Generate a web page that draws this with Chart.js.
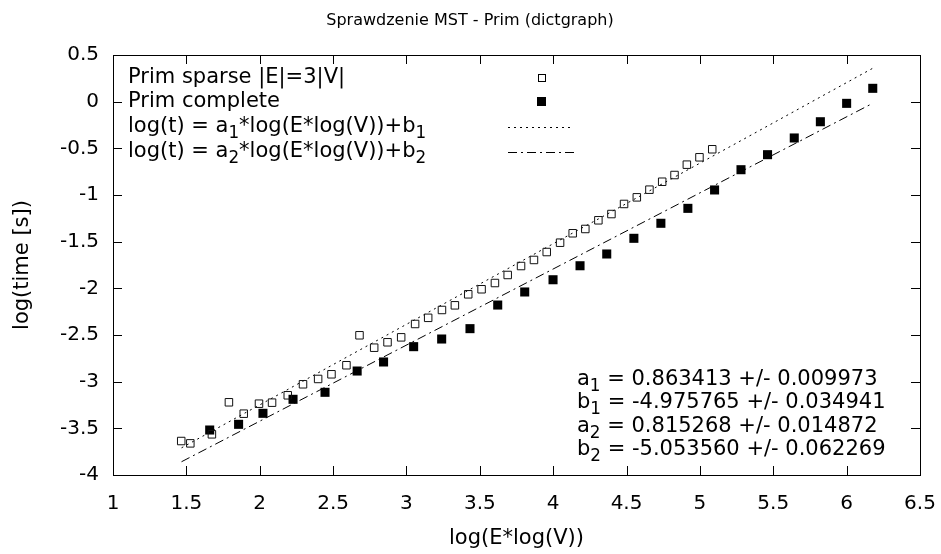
<!DOCTYPE html>
<html>
<head>
<meta charset="utf-8">
<script src="https://cdn.jsdelivr.net/npm/chart.js@4/dist/chart.umd.min.js"></script>
<style>
  html, body { margin: 0; background: #fff; }
  #wrap { width: 941px; height: 554px; }
</style>
</head>
<body>
<div id="wrap"><canvas id="c"></canvas></div>
<script>
// values
const sparseX = [1.465, 1.527, 1.674, 1.790, 1.891, 1.995, 2.084, 2.191, 2.295, 2.398,
                 2.489, 2.591, 2.680, 2.780, 2.871, 2.964, 3.059, 3.148, 3.242, 3.330,
                 3.421, 3.512, 3.603, 3.690, 3.781, 3.869, 3.956, 4.047, 4.133, 4.219,
                 4.308, 4.397, 4.483, 4.570, 4.656, 4.743, 4.827, 4.911, 4.997, 5.084];
const sparseY = [-3.636, -3.661, -3.564, -3.221, -3.343, -3.236, -3.225, -3.146, -3.028, -2.971,
                 -2.921, -2.824, -2.503, -2.636, -2.578, -2.525, -2.382, -2.316, -2.232, -2.182,
                 -2.064, -2.010, -1.943, -1.857, -1.761, -1.696, -1.611, -1.511, -1.410, -1.364,
                 -1.271, -1.204, -1.096, -1.025, -0.943, -0.858, -0.786, -0.675, -0.596, -0.510];
const completeX = [1.659, 1.856, 2.022, 2.227, 2.445, 2.664, 2.844, 3.049, 3.240, 3.433,
                   3.622, 3.806, 3.999, 4.183, 4.365, 4.550, 4.734, 4.918, 5.100, 5.280,
                   5.461, 5.643, 5.821, 6.000, 6.178];
const completeY = [-3.518, -3.457, -3.339, -3.189, -3.114, -2.886, -2.789, -2.625, -2.543, -2.432,
                   -2.179, -2.039, -1.908, -1.758, -1.632, -1.464, -1.303, -1.143, -0.946, -0.729,
                   -0.568, -0.389, -0.215, -0.018, 0.143];
// fitted lines, end points
const fit1X = [1.467, 6.178];
const fit1Y = [-3.709, 0.358];
const fit2X = [1.467, 6.178];
const fit2Y = [-3.858, -0.017];

const xTicks = [1, 1.5, 2, 2.5, 3, 3.5, 4, 4.5, 5, 5.5, 6, 6.5];
const yTicks = [0.5, 0, -0.5, -1, -1.5, -2, -2.5, -3, -3.5, -4];

const titleText = 'Sprawdzenie MST - Prim (dictgraph)';
const xTitle = 'log(E*log(V))';
const yTitle = 'log(time [s])';

// legend rows: [text, subscript] pieces
const legendRows = [
  [['Prim sparse |E|=3|V|', 0]],
  [['Prim complete', 0]],
  [['log(t) = a', 0], ['1', 1], ['*log(E*log(V))+b', 0], ['1', 1]],
  [['log(t) = a', 0], ['2', 1], ['*log(E*log(V))+b', 0], ['2', 1]]
];
const fitRows = [
  [['a', 0], ['1', 1], [' = 0.863413 +/- 0.009973', 0]],
  [['b', 0], ['1', 1], [' = -4.975765 +/- 0.034941', 0]],
  [['a', 0], ['2', 1], [' = 0.815268 +/- 0.014872', 0]],
  [['b', 0], ['2', 1], [' = -5.053560 +/- 0.062269', 0]]
];

const FONT = "'DejaVu Sans', sans-serif";
const toPts = (xs, ys) => xs.map((x, i) => ({ x: x, y: ys[i] }));

function drawRich(ctx, parts, x, y, size) {
  let cx = x;
  parts.forEach(([t, sub]) => {
    const s = sub ? size * 0.8 : size;
    ctx.font = s + 'px ' + FONT;
    ctx.fillText(t, cx, sub ? y + size * 0.3 : y);
    cx += ctx.measureText(t).width;
  });
}

const frame = {
  id: 'frame',
  afterDraw(chart) {
    const ctx = chart.ctx;
    const a = chart.chartArea;
    const xs = chart.scales.x, ys = chart.scales.y;
    ctx.save();
    ctx.strokeStyle = '#000';
    ctx.lineWidth = 1;
    ctx.strokeRect(Math.round(a.left) + 0.5, Math.round(a.top) + 0.5,
                   Math.round(a.right - a.left), Math.round(a.bottom - a.top));
    ctx.beginPath();
    xs.ticks.forEach(t => {
      const px = Math.round(xs.getPixelForValue(t.value)) + 0.5;
      ctx.moveTo(px, a.bottom); ctx.lineTo(px, a.bottom - 9);
      ctx.moveTo(px, a.top); ctx.lineTo(px, a.top + 9);
    });
    ys.ticks.forEach(t => {
      const py = Math.round(ys.getPixelForValue(t.value)) + 0.5;
      ctx.moveTo(a.left, py); ctx.lineTo(a.left + 9, py);
      ctx.moveTo(a.right, py); ctx.lineTo(a.right - 9, py);
    });
    ctx.stroke();

    ctx.fillStyle = '#000';
    ctx.textBaseline = 'middle';
    ctx.textAlign = 'center';
    ctx.font = '16px ' + FONT;
    ctx.fillText(titleText, 470, 21);

    // legend
    ctx.textAlign = 'left';
    const rowY = [78, 102, 127, 152];
    legendRows.forEach((r, i) => drawRich(ctx, r, 128, rowY[i], 21));
    ctx.lineWidth = 1;
    ctx.strokeRect(538.5, 74.5, 7, 7);
    ctx.fillRect(537, 97, 9, 9);
    ctx.beginPath();
    ctx.setLineDash([2, 4]);
    ctx.moveTo(508, 127.5); ctx.lineTo(572, 127.5);
    ctx.stroke();
    ctx.beginPath();
    ctx.setLineDash([9, 4, 2, 4]);
    ctx.moveTo(508, 152.5); ctx.lineTo(574, 152.5);
    ctx.stroke();
    ctx.setLineDash([]);

    // fit results
    const fitY = [380, 403, 427, 450];
    fitRows.forEach((r, i) => drawRich(ctx, r, 577, fitY[i], 21));
    ctx.restore();
  }
};

new Chart(document.getElementById('c'), {
  type: 'scatter',
  data: {
    datasets: [
      {
        label: 'Prim sparse |E|=3|V|',
        data: toPts(sparseX, sparseY),
        pointStyle: 'rect',
        pointRadius: 5.3,
        pointBorderWidth: 1,
        pointBorderColor: '#111',
        pointBackgroundColor: 'rgba(255,255,255,0)'
      },
      {
        label: 'Prim complete',
        data: toPts(completeX, completeY),
        pointStyle: 'rect',
        pointRadius: 6.4,
        pointBorderWidth: 0,
        pointBackgroundColor: '#000'
      },
      {
        label: 'fit1',
        data: toPts(fit1X, fit1Y),
        showLine: true,
        pointRadius: 0,
        borderColor: '#000',
        borderWidth: 1,
        borderDash: [2, 4]
      },
      {
        label: 'fit2',
        data: toPts(fit2X, fit2Y),
        showLine: true,
        pointRadius: 0,
        borderColor: '#000',
        borderWidth: 1,
        borderDash: [9, 4, 2, 4]
      }
    ]
  },
  options: {
    responsive: true,
    maintainAspectRatio: false,
    animation: false,
    layout: { padding: { top: 55, right: 21, left: 0, bottom: 0 } },
    plugins: {
      legend: { display: false },
      tooltip: { enabled: false }
    },
    scales: {
      x: {
        min: 1, max: 6.5,
        afterBuildTicks: s => { s.ticks = xTicks.map(v => ({ value: v })); },
        afterFit: s => { s.height = 79; s.paddingLeft = 0; s.paddingRight = 0; },
        grid: { display: false, drawTicks: false },
        border: { display: false },
        ticks: {
          color: '#000', padding: 17, maxRotation: 0, autoSkip: false,
          font: { family: FONT, size: 20 },
          callback: v => String(Math.round(v * 10) / 10)
        },
        title: {
          display: true, text: xTitle, color: '#000',
          font: { family: FONT, size: 21 },
          padding: { top: 0, bottom: 3 }
        }
      },
      y: {
        min: -4, max: 0.5,
        afterBuildTicks: s => { s.ticks = yTicks.map(v => ({ value: v })); },
        afterFit: s => { s.width = 113; s.paddingTop = 0; s.paddingBottom = 0; },
        grid: { display: false, drawTicks: false },
        border: { display: false },
        ticks: {
          color: '#000', padding: 14, autoSkip: false,
          font: { family: FONT, size: 20 },
          callback: v => String(Math.round(v * 10) / 10)
        },
        title: {
          display: true, text: yTitle, color: '#000',
          font: { family: FONT, size: 21 },
          padding: { top: 10, bottom: 0 }
        }
      }
    }
  },
  plugins: [frame]
});
</script>
</body>
</html>
